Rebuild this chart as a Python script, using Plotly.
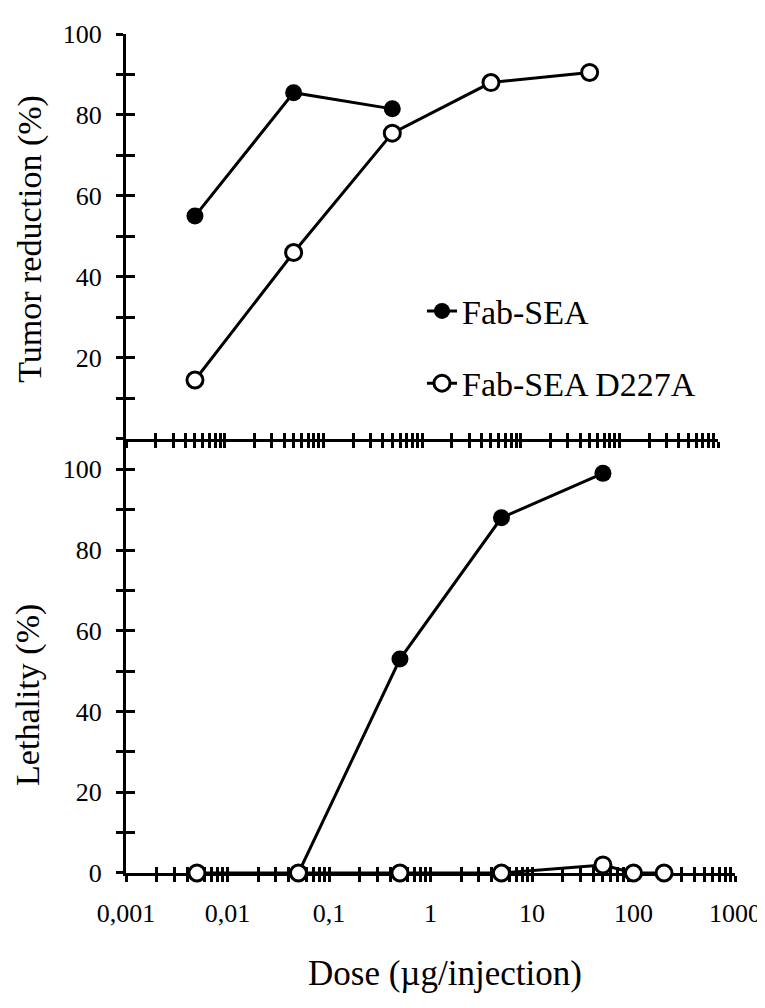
import plotly.graph_objects as go

# ---------------- data ----------------
dose_top = [0.005, 0.05, 0.5, 5, 50]
tumor_fab_sea = [55, 85.5, 81.5]
tumor_d227a = [14.5, 46, 75.5, 88, 90.5]

dose_leth_fab_sea = [0.05, 0.5, 5, 50]
leth_fab_sea = [0, 53, 88, 99]
dose_leth_d227a = [0.005, 0.05, 0.5, 5, 50, 100, 200]
leth_d227a = [0, 0, 0, 0, 2, 0, 0]

decades = [0.001, 0.01, 0.1, 1, 10, 100, 1000]
decade_labels = ["0,001", "0,01", "0,1", "1", "10", "100", "1000"]
y_ticks = list(range(0, 101, 10))
top_y_labels = ["", "", "20", "", "40", "", "60", "", "80", "", "100"]
bottom_y_labels = ["0", "", "20", "", "40", "", "60", "", "80", "", "100"]

# x tick positions (1..9 per decade) with labels at decades only
x_tick_vals, x_tick_text = [], []
for i, d in enumerate(decades[:-1]):
    for k in range(1, 10):
        x_tick_vals.append(k * d)
        x_tick_text.append(decade_labels[i] if k == 1 else "")
x_tick_vals.append(decades[-1])
x_tick_text.append(decade_labels[-1])

# ---------------- layout geometry ----------------
OFF = 8  # page body margin
W, H = 765, 1008
X0, X1, Y0, Y1 = 126, 735, 25, 873  # plot area in screen pixels
ML, MT = X0 - OFF, Y0 - OFF
MR, MB = W - (X1 - OFF), H - (Y1 - OFF)
PW, PH = X1 - X0, Y1 - Y0


def fx(p):
    return (p - X0) / PW


def fy(p):
    return (Y1 - p) / PH


split = fy(434)
FONT = "Liberation Serif"

fig = go.Figure()

# top panel
fig.add_trace(go.Scatter(x=dose_top[:len(tumor_fab_sea)], y=tumor_fab_sea, mode="lines+markers",
                         name="Fab-SEA", legendgroup="a", xaxis="x", yaxis="y",
                         line=dict(color="black", width=3),
                         marker=dict(symbol="circle", size=17, color="black"),
                         cliponaxis=False))
fig.add_trace(go.Scatter(x=dose_top, y=tumor_d227a, mode="lines+markers",
                         name="Fab-SEA D227A", legendgroup="b", xaxis="x", yaxis="y",
                         line=dict(color="black", width=3),
                         marker=dict(symbol="circle", size=16, color="white",
                                     line=dict(color="black", width=3)),
                         cliponaxis=False))
# bottom panel
fig.add_trace(go.Scatter(x=dose_leth_fab_sea, y=leth_fab_sea, mode="lines+markers",
                         name="Fab-SEA", showlegend=False, xaxis="x2", yaxis="y2",
                         line=dict(color="black", width=3),
                         marker=dict(symbol="circle", size=17, color="black"),
                         cliponaxis=False))
fig.add_trace(go.Scatter(x=dose_leth_d227a, y=leth_d227a, mode="lines+markers",
                         name="Fab-SEA D227A", showlegend=False, xaxis="x2", yaxis="y2",
                         line=dict(color="black", width=3),
                         marker=dict(symbol="circle", size=16, color="white",
                                     line=dict(color="black", width=3)),
                         cliponaxis=False))

# empty traces to register overlay axes (for crossing ticks)
for xa, ya in [("x3", "y"), ("x", "y3"), ("x4", "y2"), ("x2", "y4")]:
    fig.add_trace(go.Scatter(x=[], y=[], xaxis=xa, yaxis=ya, showlegend=False,
                             hoverinfo="skip"))

common_x = dict(type="log", range=[-3, 3], autorange=False, showgrid=False, zeroline=False,
                tickmode="array", tickvals=x_tick_vals, tickwidth=2.5, tickcolor="black",
                layer="below traces")
common_y = dict(range=[0, 100], autorange=False, showgrid=False, zeroline=False,
                tickmode="array", tickvals=y_ticks, tickwidth=2.5, tickcolor="black")
bottom_range = [0, 100 * (873 - 434) / 408]

fig.update_layout(
    width=W, height=H,
    margin=dict(l=ML, r=MR, t=MT, b=MB),
    paper_bgcolor="white", plot_bgcolor="white",
    font=dict(family=FONT, color="black", size=26),
    xaxis=dict(**common_x, domain=[0, fx(718)], anchor="y", showline=True, linewidth=3,
               linecolor="black", ticks="outside", ticklen=6, showticklabels=False),
    xaxis3=dict(**common_x, overlaying="x", anchor="y", showline=False, ticks="inside",
                ticklen=6, showticklabels=False),
    yaxis=dict(**common_y, domain=[split, 1], anchor="x", showline=True, linewidth=3,
               linecolor="black", ticks="outside", ticklen=7, ticktext=top_y_labels,
               tickfont=dict(size=26, family=FONT), ticklabelstandoff=9),
    yaxis3=dict(**common_y, overlaying="y", anchor="x", showline=False, ticks="inside",
                ticklen=9, showticklabels=False),
    xaxis2=dict(**common_x, domain=[0, 1], anchor="y2", showline=True, linewidth=3,
                linecolor="black", ticks="outside", ticklen=6, ticktext=x_tick_text,
                tickfont=dict(size=26, family=FONT), ticklabelstandoff=9),
    xaxis4=dict(**common_x, overlaying="x2", anchor="y2", showline=False, ticks="inside",
                ticklen=6, showticklabels=False),
    yaxis2=dict(**{**common_y, "range": bottom_range}, domain=[0, split],
                anchor="x2", showline=True, linewidth=3, linecolor="black", ticks="outside",
                ticklen=7, ticktext=bottom_y_labels, tickfont=dict(size=26, family=FONT),
                ticklabelstandoff=9),
    yaxis4=dict(**{**common_y, "range": bottom_range}, overlaying="y2",
                anchor="x2", showline=False, ticks="inside", ticklen=9, showticklabels=False),
    showlegend=True,
    legend=dict(x=fx(422), y=fy(276), xanchor="left", yanchor="top",
                font=dict(size=34, family=FONT, color="black"),
                bgcolor="rgba(0,0,0,0)", traceorder="grouped", tracegroupgap=25),
    annotations=[
        dict(text="Tumor reduction (%)", xref="paper", yref="paper", x=fx(30), y=fy(232),
             xanchor="center", yanchor="middle", textangle=-90, showarrow=False,
             font=dict(size=34, family=FONT)),
        dict(text="Lethality (%)", xref="paper", yref="paper", x=fx(28), y=fy(693),
             xanchor="center", yanchor="middle", textangle=-90, showarrow=False,
             font=dict(size=34, family=FONT)),
        dict(text="Dose (µg/injection)", xref="paper", yref="paper", x=fx(445), y=fy(975),
             xanchor="center", yanchor="middle", showarrow=False,
             font=dict(size=35, family=FONT)),
    ],
)

fig.write_html("out.html")
